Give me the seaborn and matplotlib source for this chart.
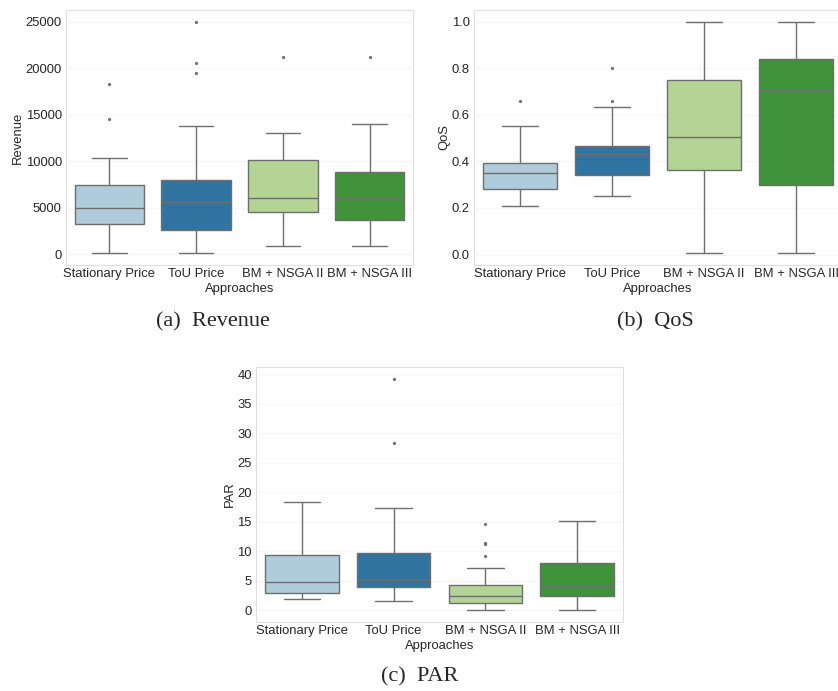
import pandas as pd
import matplotlib.pyplot as plt
import seaborn as sns

sns.set_theme(style="whitegrid")
plt.rcParams['font.family'] = ['Liberation Sans', 'DejaVu Sans']
plt.rcParams['grid.color'] = '#f6f6f6'
plt.rcParams['axes.edgecolor'] = '#e0e0e0'

approaches = ['Stationary Price', 'ToU Price', 'BM + NSGA II', 'BM + NSGA III']

# Revenue samples per approach
rev_stationary = [100, 1200, 2300, 3300, 4000, 4600, 5000, 5800, 6700, 7500, 10300, 14500, 18300]
rev_tou = [100, 900, 1600, 2100, 2600, 3500, 4300, 5000, 5600, 6300, 7000, 7500, 8000,
           13800, 19500, 20500, 25000]
rev_nsga2 = [900, 2000, 3400, 4600, 5000, 5500, 6000, 7000, 8200, 10100, 11500, 13000, 21200]
rev_nsga3 = [900, 2000, 3000, 3700, 4500, 5300, 6000, 6800, 7900, 8800, 11000, 14000, 21200]

# QoS samples
qos_stationary = [0.21, 0.24, 0.26, 0.28, 0.31, 0.33, 0.35, 0.36, 0.38, 0.395, 0.47, 0.55, 0.66]
qos_tou = [0.25, 0.29, 0.32, 0.34, 0.37, 0.40, 0.43, 0.44, 0.455, 0.465, 0.635, 0.66, 0.80]
qos_nsga2 = [0.005, 0.12, 0.25, 0.365, 0.41, 0.46, 0.505, 0.58, 0.67, 0.75, 0.86, 0.94, 1.0]
qos_nsga3 = [0.005, 0.10, 0.20, 0.30, 0.45, 0.60, 0.705, 0.76, 0.80, 0.84, 0.90, 0.96, 1.0]

# PAR samples
par_stationary = [1.9, 2.3, 2.7, 3.0, 3.6, 4.2, 4.8, 5.9, 7.6, 9.4, 12.0, 15.5, 18.3]
par_tou = [1.65, 2.5, 3.3, 4.0, 4.5, 4.9, 5.2, 6.4, 8.1, 9.8, 17.4, 28.3, 39.3]
par_nsga2 = [0.0, 0.25, 0.5, 0.7, 0.95, 1.2, 1.45, 1.7, 2.0, 2.25, 2.5, 2.85, 3.2, 3.6,
             3.95, 4.3, 7.15, 9.25, 11.2, 11.4, 14.6]
par_nsga3 = [0.0, 0.8, 1.6, 2.45, 3.0, 3.6, 4.2, 5.1, 6.2, 8.1, 10.5, 13.0, 15.2]


def long_df(groups, name):
    rows = []
    for label, vals in zip(approaches, groups):
        for v in vals:
            rows.append({'Approaches': label, name: v})
    return pd.DataFrame(rows)


panels = [
    ('Revenue', [rev_stationary, rev_tou, rev_nsga2, rev_nsga3], [66, 10, 347, 255], '(a)  Revenue', (213, 322)),
    ('QoS', [qos_stationary, qos_tou, qos_nsga2, qos_nsga3], [474, 10, 368, 255], '(b)  QoS', (655, 322)),
    ('PAR', [par_stationary, par_tou, par_nsga2, par_nsga3], [256, 367, 367, 255], '(c)  PAR', (420, 677)),
]

W, H = 838, 691
fig = plt.figure(figsize=(W / 100, H / 100), dpi=100)

for name, groups, (x0, y0, w, h), caption, (cx, cy) in panels:
    ax = fig.add_axes([x0 / W, 1 - (y0 + h) / H, w / W, h / H])
    df = long_df(groups, name)
    sns.boxplot(data=df, x='Approaches', y=name, hue='Approaches', palette='Paired',
                legend=False, fliersize=1.3, linewidth=1.0, linecolor='0.43', ax=ax)
    ax.tick_params(axis='x', labelsize=9.4, pad=-4)
    ax.tick_params(axis='y', labelsize=9.4, pad=-3)
    ax.set_xlabel('Approaches', fontsize=9.4, labelpad=2)
    ax.set_ylabel(name, fontsize=9.4, labelpad=1)
    for s in ax.spines.values():
        s.set_linewidth(0.8)
    fig.text(cx / W, 1 - cy / H, caption, ha='center', va='center',
             fontsize=16, family=['Liberation Serif', 'DejaVu Serif'])

fig.savefig('out.png', dpi=100)
